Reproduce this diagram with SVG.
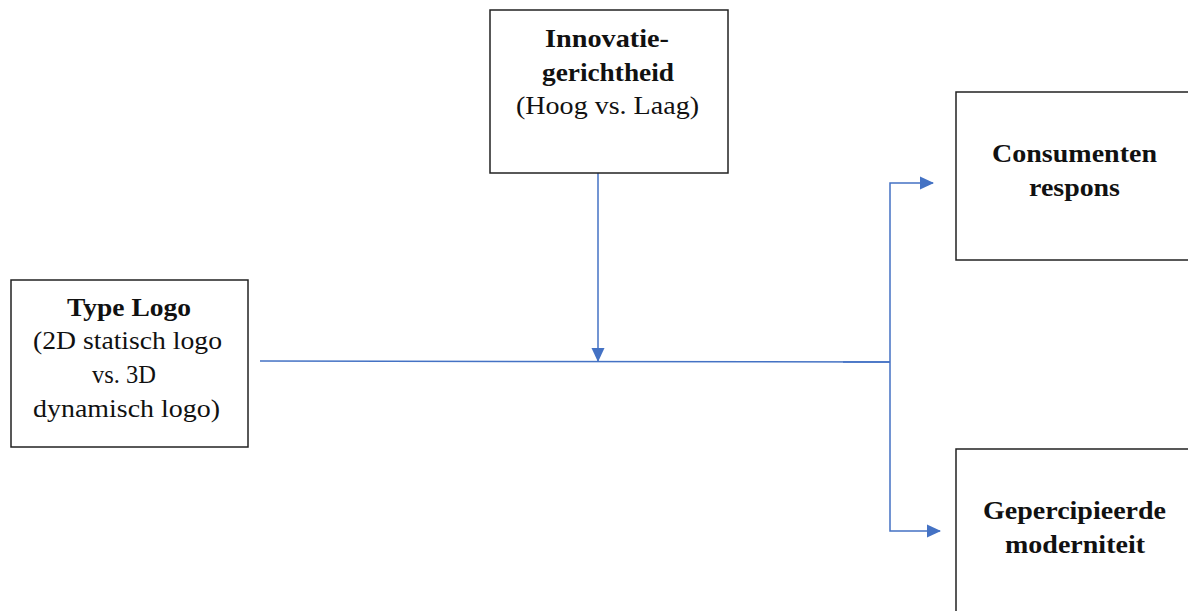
<svg xmlns="http://www.w3.org/2000/svg" width="1188" height="611" viewBox="0 0 1188 611">
<style>
.box{fill:#fff;stroke:#222;stroke-width:1.5}
.t{font-family:"Liberation Serif","Times New Roman","DejaVu Serif",serif;font-size:26px;fill:#111;text-anchor:middle}
.b{font-weight:bold}
.c{stroke:#4472C4;stroke-width:1.5;fill:none}
</style>
<defs>
<marker id="ah2" markerWidth="14" markerHeight="14" refX="13" refY="7" orient="auto" markerUnits="userSpaceOnUse"><path d="M0,0.5 L14,7 L0,13.5 z" fill="#4472C4"/></marker>
</defs>
<g id="connectors">
<path class="c" d="M260,361 L890,362"/>
<path class="c" d="M843,362 L890,362" stroke-width="2.5"/>
<path class="c" d="M598,173 L598,361" marker-end="url(#ah2)"/>
<path class="c" d="M890,362 L890,183 L933,183" marker-end="url(#ah2)"/>
<path class="c" d="M890,362 L890,531 L940,531" marker-end="url(#ah2)"/>
</g>
<g id="innovatie">
<rect class="box" x="490" y="10" width="238" height="163"/>
<text class="t b" x="607" y="47" textLength="124" lengthAdjust="spacingAndGlyphs">Innovatie-</text>
<text class="t b" x="608" y="81" textLength="132" lengthAdjust="spacingAndGlyphs">gerichtheid</text>
<text class="t" x="607.5" y="114" textLength="183" lengthAdjust="spacingAndGlyphs">(Hoog vs. Laag)</text>
</g>
<g id="typelogo">
<rect class="box" x="11" y="280" width="237" height="167"/>
<text class="t b" x="129" y="316" textLength="124" lengthAdjust="spacingAndGlyphs">Type Logo</text>
<text class="t" x="127.5" y="349" textLength="189" lengthAdjust="spacingAndGlyphs">(2D statisch logo</text>
<text class="t" x="124" y="383" textLength="64" lengthAdjust="spacingAndGlyphs">vs. 3D</text>
<text class="t" x="126.5" y="417" textLength="187" lengthAdjust="spacingAndGlyphs">dynamisch logo)</text>
</g>
<g id="consumenten">
<rect class="box" x="956" y="92" width="240" height="168"/>
<text class="t b" x="1074.5" y="162" textLength="165" lengthAdjust="spacingAndGlyphs">Consumenten</text>
<text class="t b" x="1074.5" y="196" textLength="91" lengthAdjust="spacingAndGlyphs">respons</text>
</g>
<g id="modern">
<rect class="box" x="956" y="449" width="240" height="180"/>
<text class="t b" x="1074.5" y="519" textLength="183" lengthAdjust="spacingAndGlyphs">Gepercipieerde</text>
<text class="t b" x="1075" y="553" textLength="140" lengthAdjust="spacingAndGlyphs">moderniteit</text>
</g>
</svg>
